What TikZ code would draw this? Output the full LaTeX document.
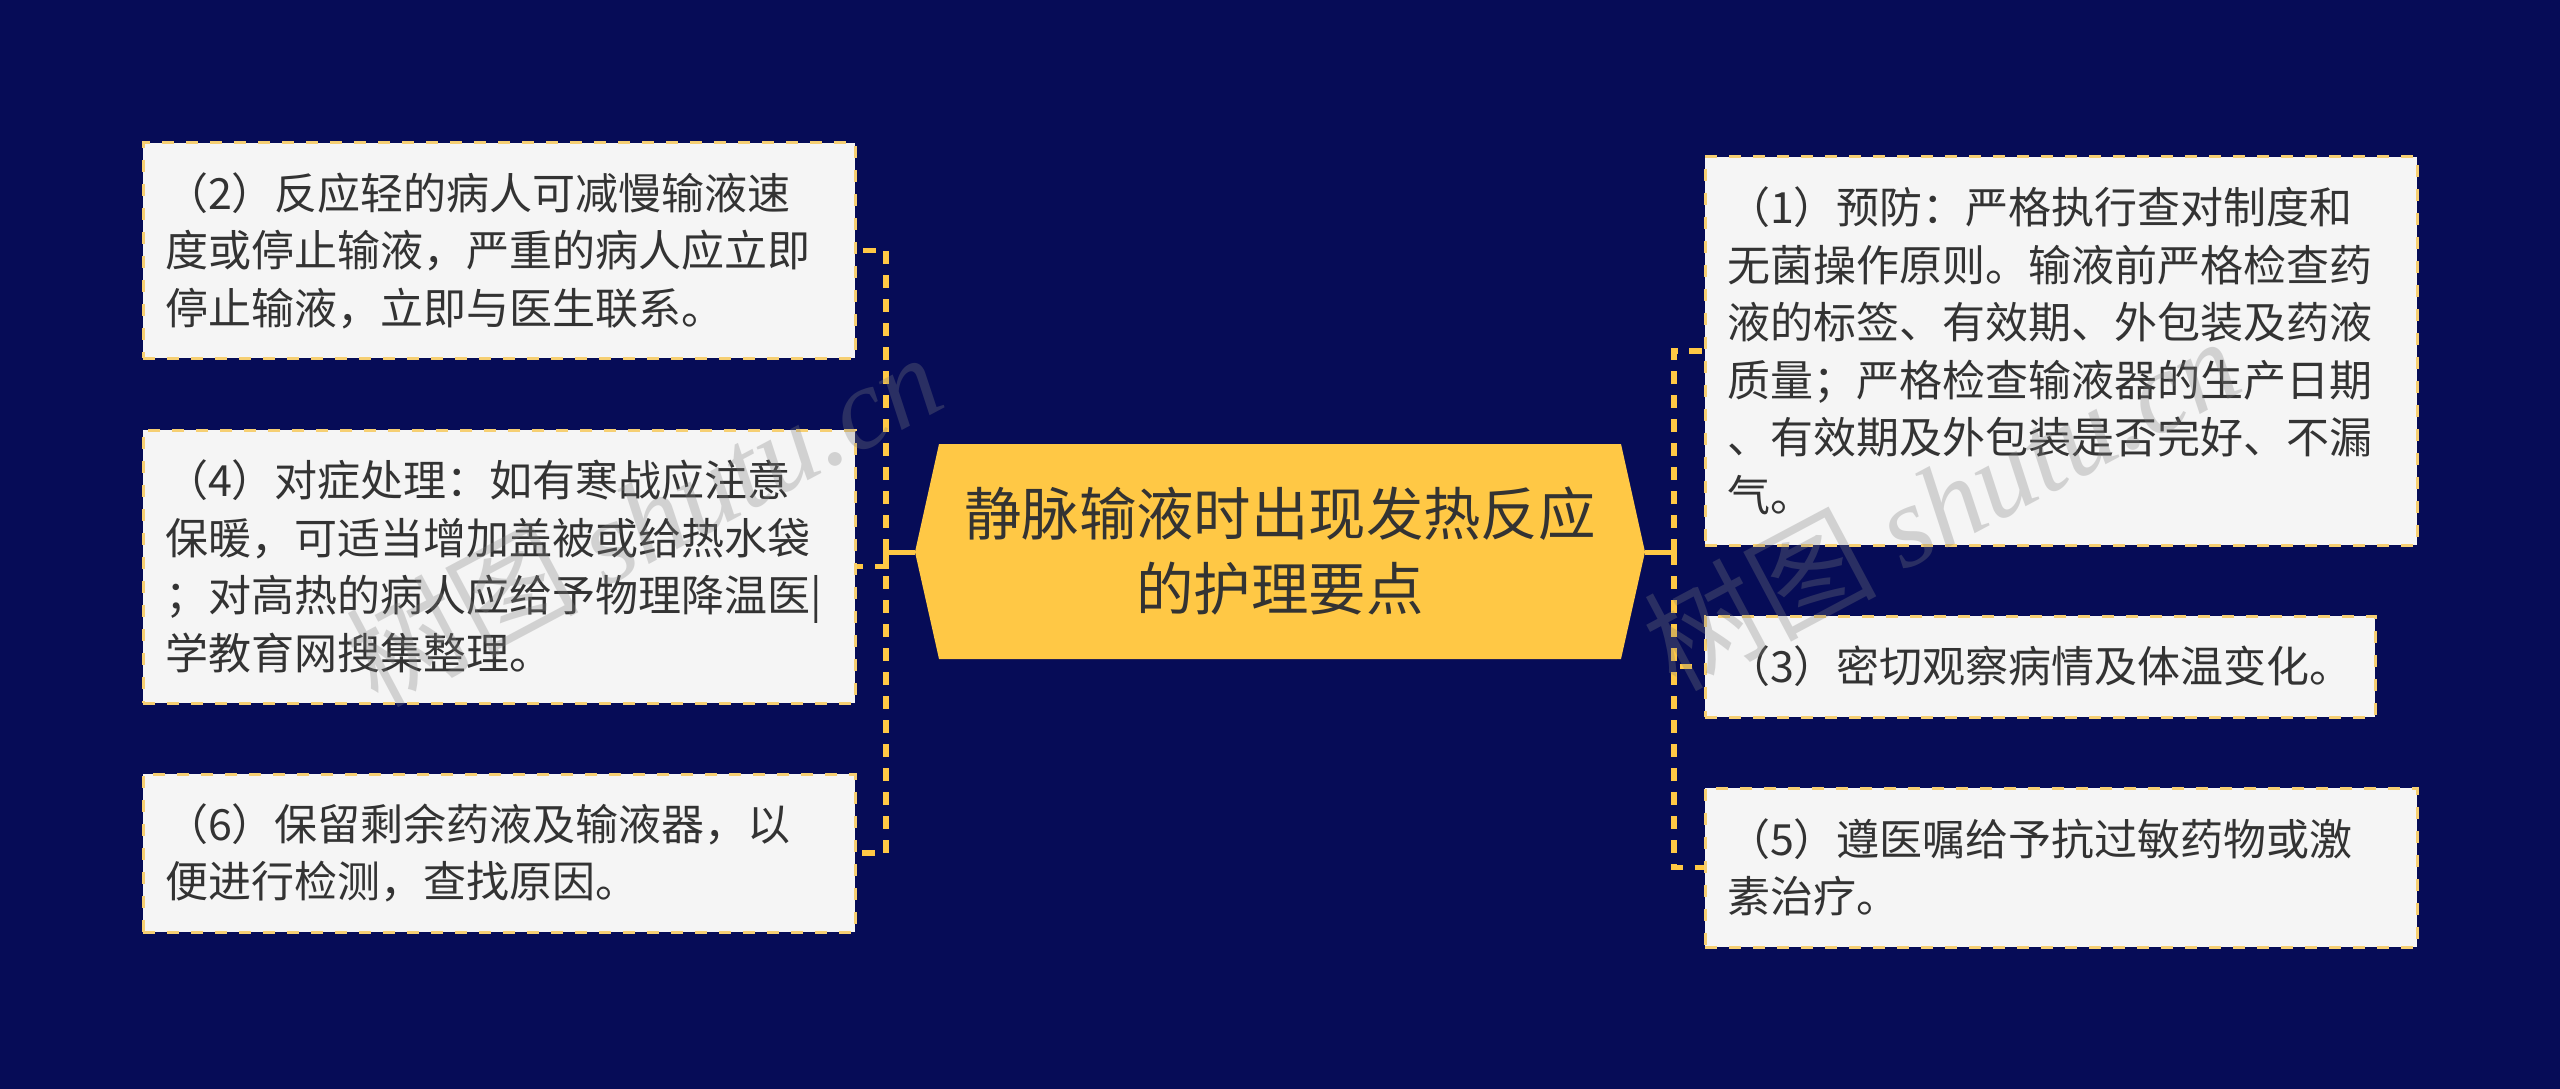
\documentclass[tikz,border=0pt]{standalone}
\usepackage{fontspec}
\setmainfont{Noto Sans CJK SC}
\newfontfamily\wmfont{Liberation Serif}
\lineskiplimit=-1000pt
\definecolor{bgnavy}{HTML}{060C57}
\definecolor{gold}{HTML}{FFC845}
\definecolor{cardfill}{HTML}{F5F5F5}
\definecolor{ink}{HTML}{333333}
\definecolor{cardedge}{HTML}{F6CF72}
\tikzset{
  card/.style 2 args={draw=cardedge, fill=cardfill, line width=3pt,
    dash pattern=on 12pt off 12pt, inner xsep=22pt, inner ysep=0pt,
    text width=#1pt-44pt, minimum height=#2pt, align=left, text=ink,
    font=\fontsize{43}{57.5}\selectfont},
  linkdash/.style={draw=gold, line width=5.5pt, dash pattern=on 12.7pt off 11.3pt},
  linksolid/.style={draw=gold, line width=5pt},
  watermark/.style={rotate=28, text=gray, opacity=0.3,
    font=\fontsize{116}{116}\selectfont}
}
\begin{document}
\begin{tikzpicture}[x=1pt,y=-1pt]
\useasboundingbox (0,0) rectangle (2560,1089);
\fill[bgnavy] (0,0) rectangle (2560,1089);

% central hexagon
\coordinate (hexL) at (915,552);
\coordinate (hexR) at (1645,552);
\coordinate (trunkL) at (886,552);
\coordinate (trunkR) at (1674,552);
\fill[gold] (hexL) -- (939,444) -- (1621,444) -- (hexR) -- (1621,659) -- (939,659) -- cycle;
\node[align=center, text=ink, inner sep=0pt, font=\fontsize{57.4}{75}\selectfont] (title) at (1280,551)
  {静脉输液时出现发热反应\\的护理要点};

% cards
\node[card={712}{215}] (b2) at (499,250.5)
  {（2）反应轻的病人可减慢输液速\\度或停止输液，严重的病人应立即\\停止输液，立即与医生联系。};
\node[card={712}{273}] (b4) at (499,566.5)
  {（4）对症处理：如有寒战应注意\\保暖，可适当增加盖被或给热水袋\\；对高热的病人应给予物理降温医|\\学教育网搜集整理。};
\node[card={712}{158}] (b6) at (499,853)
  {（6）保留剩余药液及输液器，以\\便进行检测，查找原因。};
\node[card={712}{388}] (b1) at (2061,351)
  {（1）预防：严格执行查对制度和\\无菌操作原则。输液前严格检查药\\液的标签、有效期、外包装及药液\\质量；严格检查输液器的生产日期\\、有效期及外包装是否完好、不漏\\气。};
\node[card={670}{101}] (b3) at (2040,666.5)
  {（3）密切观察病情及体温变化。};
\node[card={712}{159}] (b5) at (2061,867.5)
  {（5）遵医嘱给予抗过敏药物或激\\素治疗。};

% connectors
\draw[linksolid] (hexL) -- (trunkL);
\draw[linksolid] (hexR) -- (trunkR);
\draw[linkdash] (trunkL) |- (b2.east);
\draw[linkdash] (trunkL) |- (b6.east);
\draw[linkdash, dash pattern=on 26pt off 12pt on 8pt off 40pt] (trunkL) |- (b4.east);
\draw[linkdash] (trunkR) |- (b1.west);
\draw[linkdash] (trunkR) |- (b3.west);
\draw[linkdash] (trunkR) |- (b5.west);

% watermarks
\node[watermark] (wm1) at (643,518) {树图 {\wmfont\itshape shutu.cn}};
\node[watermark] (wm2) at (1941,502) {树图 {\wmfont\itshape shutu.cn}};
\end{tikzpicture}
\end{document}
